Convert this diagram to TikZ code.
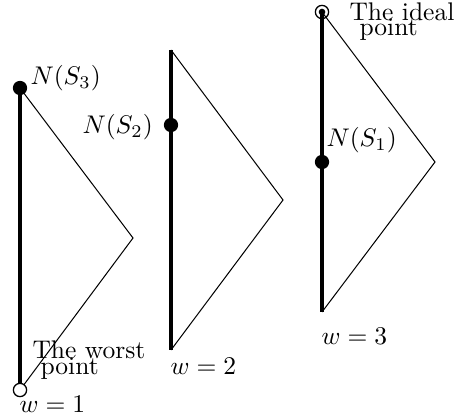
\documentclass[tikz,border=0pt]{standalone}
\begin{document}
\begin{tikzpicture}[x=0.392pt,y=-0.392pt,
  thickline/.style={line width=1.2pt},
  thinline/.style={line width=0.4pt},
  fdot/.style={circle,fill=black,inner sep=0pt,minimum size=5.6pt},
  odot/.style={circle,draw,line width=0.5pt,fill=white,inner sep=0pt,minimum size=5.2pt},
  idot/.style={circle,draw,line width=0.5pt,inner sep=0pt,minimum size=5.2pt},
  cdot/.style={circle,fill=black,inner sep=0pt,minimum size=2.6pt},
  lbl/.style={inner sep=0pt,anchor=base west}]
\useasboundingbox (0,0) rectangle (455,417);
% triangle 1
\coordinate (a1) at (20,88);
\coordinate (b1) at (20,390);
\coordinate (c1) at (133,238);
% triangle 2
\coordinate (a2) at (171,50);
\coordinate (b2) at (171,350);
\coordinate (c2) at (283,200);
% triangle 3
\coordinate (a3) at (322,12);
\coordinate (b3) at (322,312);
\coordinate (c3) at (435,162);
% lines
\draw[thickline] (a1) -- (b1);
\draw[thinline] (a1) -- (c1) -- (b1);
\draw[thickline] (a2) -- (b2);
\draw[thinline] (a2) -- (c2) -- (b2);
\draw[thickline] (a3) -- (b3);
\draw[thinline] (a3) -- (c3) -- (b3);
% points
\node[fdot] (s3) at (a1) {};
\node[odot] (worst) at (b1) {};
\node[fdot] (s2) at (171,125) {};
\node[fdot] (s1) at (322,162) {};
\node[idot] (ideal) at (a3) {};
\node[cdot] (idealc) at (a3) {};
% labels
\node[lbl] (n3) at (30,85) {$N(S_3)$};
\node[lbl] (n2) at (82,134) {$N(S_2)$};
\node[lbl] (n1) at (326,147) {$N(S_1)$};
\node[lbl] (worst1) at (32,358) {The worst};
\node[lbl] (worst2) at (40,374) {point};
\node[lbl] (ideal1) at (349,21) {The ideal};
\node[lbl] (ideal2) at (359,36) {point};
\node[lbl] (w1) at (19,412) {$w=1$};
\node[lbl] (w2) at (170,374) {$w=2$};
\node[lbl] (w3) at (321,344) {$w=3$};
\end{tikzpicture}
\end{document}
